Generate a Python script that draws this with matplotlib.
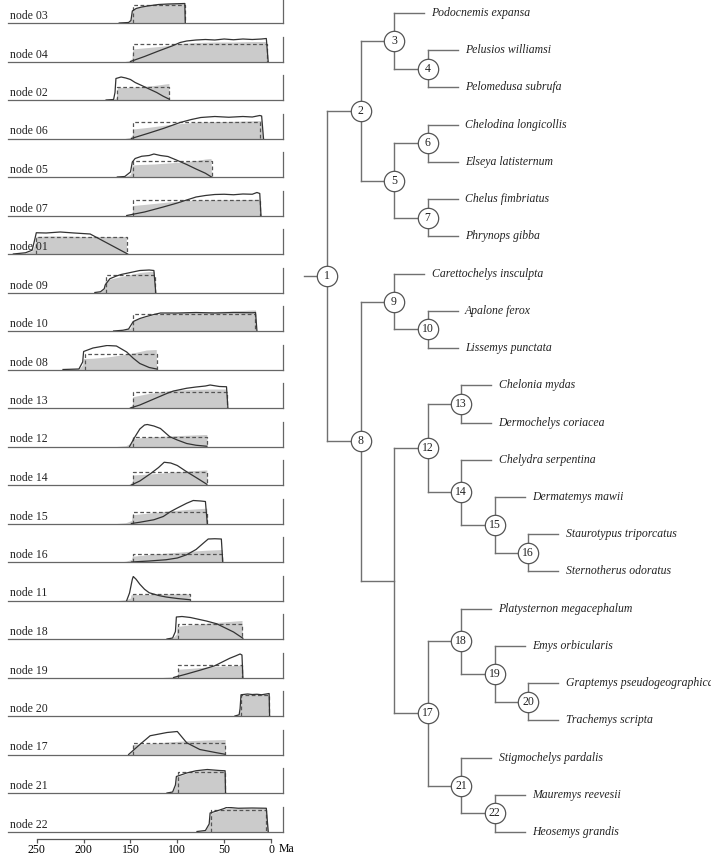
import numpy as np
import matplotlib
matplotlib.use("Agg")
import matplotlib.pyplot as plt

plt.rcParams["font.family"] = ["Liberation Serif", "DejaVu Serif"]

# ---- left: node age densities, (age Ma, relative height) ----
PANELS = ["03", "04", "02", "06", "05", "07", "01", "09", "10", "08", "13",
          "12", "14", "15", "16", "11", "18", "19", "20", "17", "21", "22"]

GRAY = {
    "03": [(162, 0), (152, .02), (149.5, .12), (148, .52), (144, .6), (138, .66), (130, .7), (120, .75), (110, .78), (100, .8), (92, .82), (91.5, 0)],
    "04": [(156, 0), (151, .04), (148.5, .12), (147.5, .5), (140, .53), (125, .58), (110, .64), (97, .72), (80, .76), (60, .78), (40, .78), (20, .8), (5, .8), (3.5, 0)],
    "02": [(176, 0), (168, .02), (165, .1), (164, .52), (155, .5), (145, .52), (135, .55), (125, .58), (115, .63), (109, .66), (108.5, 0)],
    "06": [(156, 0), (150, .05), (148, .15), (147.5, .38), (130, .45), (110, .55), (90, .62), (75, .66), (50, .68), (25, .7), (10, .72), (9, 0)],
    "05": [(164, 0), (156, .02), (150, .1), (148, .48), (140, .5), (125, .52), (110, .56), (95, .6), (80, .66), (70, .72), (64, .74), (63.5, 0)],
    "07": [(156, 0), (150, .04), (148, .14), (147.5, .4), (130, .46), (110, .54), (90, .6), (75, .62), (50, .63), (25, .64), (12, .65), (10.7, 0)],
    "01": [(275, 0), (262, .04), (255, .12), (252, .4), (251, .7), (240, .72), (220, .72), (200, .7), (180, .7), (160, .7), (154.5, .7), (154, 0)],
    "09": [(188, 0), (182, .03), (178, .15), (177, .48), (170, .55), (160, .64), (150, .72), (140, .8), (130, .84), (124.5, .85), (124, 0)],
    "10": [(168, 0), (158, .03), (150, .12), (147.5, .42), (140, .5), (130, .6), (118, .7), (100, .74), (80, .76), (60, .78), (40, .8), (20, .84), (16.5, .84), (16, 0)],
    "08": [(222, 0), (205, .02), (201, .2), (200.5, .44), (190, .45), (175, .5), (160, .58), (145, .68), (133, .78), (122.5, .8), (122, 0)],
    "13": [(153, 0), (150, .05), (148, .15), (147.5, .45), (135, .55), (120, .64), (104, .72), (85, .74), (65, .76), (47.5, .76), (47, 0)],
    "12": [(165, 0), (155, .03), (149, .15), (148.5, .32), (130, .38), (110, .42), (90, .45), (70, .48), (68.5, .48), (68, 0)],
    "14": [(153, 0), (150, .05), (148, .15), (147.5, .4), (130, .44), (110, .5), (90, .56), (70, .6), (68.5, .6), (68, 0)],
    "15": [(165, 0), (155, .03), (149, .12), (148, .35), (130, .42), (110, .5), (90, .56), (70, .61), (68.5, .61), (68, 0)],
    "16": [(163, 0), (155, .03), (149, .1), (148, .23), (130, .3), (110, .36), (90, .42), (70, .47), (52, .5), (51.5, 0)],
    "11": [(163, 0), (155, .03), (150, .1), (149.5, .23), (130, .25), (110, .26), (90, .27), (86.5, .27), (86, 0)],
    "18": [(111, 0), (105, .04), (101, .2), (100.5, .5), (90, .55), (75, .6), (60, .66), (45, .7), (31, .74), (30.5, 0)],
    "19": [(116, 0), (105, .03), (99.5, .12), (99, .33), (80, .38), (60, .44), (40, .48), (31, .5), (30.5, 0)],
    "20": [(38.5, 0), (34, .05), (33, .3), (32, .85), (20, .87), (10, .87), (2, .88), (1.5, 0)],
    "17": [(152, 0), (150, .05), (148, .15), (147.5, .4), (130, .44), (110, .5), (90, .55), (70, .58), (49, .6), (48.5, 0)],
    "21": [(111, 0), (105, .04), (102, .3), (101, .65), (90, .78), (80, .88), (68, .93), (55, .9), (49, .88), (48.5, 0)],
    "22": [(79, 0), (70, .04), (66, .3), (65, .72), (58, .8), (50, .9), (47, .96), (35, .92), (20, .93), (5, .92), (3, 0)],
}

LINE = {
    "03": [(162, 0), (152, .02), (149.5, .1), (148, .48), (144, .58), (138, .64), (130, .69), (120, .74), (110, .76), (100, .77), (92, .78), (91.5, 0)],
    "04": [(150, 0), (135, .2), (120, .42), (105, .63), (97, .76), (90, .82), (80, .86), (70, .88), (60, .86), (50, .9), (40, .87), (30, .9), (20, .88), (10, .9), (5, .92), (3, 0)],
    "02": [(176, 0), (168, .02), (166.5, .3), (165.5, .86), (160, .92), (155, .88), (150, .82), (145, .7), (138, .58), (130, .44), (122, .3), (115, .15), (108.5, .03)],
    "06": [(149, 0), (130, .22), (115, .4), (97, .64), (85, .76), (75, .84), (60, .88), (45, .85), (30, .88), (20, .86), (12, .92), (10, .9), (8, 0)],
    "05": [(164, 0), (156, .02), (150, .2), (148, .6), (145, .74), (138, .83), (130, .86), (125, .92), (118, .86), (110, .82), (101, .68), (90, .5), (80, .32), (70, .15), (63.5, 0)],
    "07": [(154, 0), (135, .14), (115, .34), (100, .5), (90, .62), (80, .74), (70, .8), (60, .84), (50, .85), (40, .83), (30, .86), (20, .85), (15, .92), (12, .88), (10.7, 0)],
    "01": [(275, 0), (262, .05), (255, .15), (252, .6), (250.5, .85), (240, .84), (225, .88), (210, .84), (193, .8), (180, .54), (165, .24), (153, 0)],
    "09": [(188, 0), (182, .03), (178, .15), (177, .3), (172, .55), (165, .66), (160, .72), (150, .8), (140, .88), (130, .9), (125, .88), (123, 0)],
    "10": [(168, 0), (158, .03), (152, .08), (147, .38), (140, .5), (133, .58), (125, .66), (118, .72), (100, .72), (80, .74), (60, .72), (40, .74), (20, .73), (16.5, .74), (15, 0)],
    "08": [(222, 0), (205, .02), (201, .3), (200, .72), (190, .86), (175, .96), (165, .94), (154, .7), (147, .45), (140, .24), (130, .08), (122, .02)],
    "13": [(150, 0), (140, .12), (130, .28), (120, .44), (110, .6), (104, .68), (90, .79), (80, .84), (70, .88), (65, .92), (55, .86), (47.5, .85), (46, 0)],
    "12": [(151, 0), (145, .4), (140, .7), (135, .86), (132, .88), (125, .82), (118, .72), (108, .39), (100, .26), (90, .12), (80, .05), (68.5, .01)],
    "14": [(149, 0), (140, .16), (128, .47), (120, .7), (114, .91), (107, .88), (100, .78), (90, .53), (80, .3), (68.5, .03)],
    "15": [(149, 0), (140, .05), (125, .15), (115, .28), (107, .48), (100, .62), (90, .81), (83, .92), (75, .9), (70, .88), (68, 0)],
    "16": [(149, 0), (130, .04), (112, .09), (100, .16), (90, .29), (80, .5), (72, .76), (67, .92), (60, .93), (53, .92), (51.5, 0)],
    "11": [(154, 0), (151, .3), (148, .85), (147, .96), (144, .85), (140, .65), (135, .45), (130, .31), (120, .2), (112, .14), (100, .08), (86.5, .03)],
    "18": [(111, 0), (105, .04), (102, .3), (101, .88), (95, .9), (86, .86), (69, .72), (58, .61), (40, .28), (30, .03)],
    "19": [(104, 0), (90, .14), (75, .3), (60, .47), (44, .77), (38, .86), (33, .94), (31, .9), (30, 0)],
    "20": [(38.5, 0), (34, .05), (33, .3), (32, .85), (25, .88), (20, .86), (15, .87), (10, .85), (5, .88), (2, .9), (1.5, 0)],
    "17": [(152, 0), (140, .4), (129, .75), (111, .88), (100, .92), (90, .47), (76, .2), (58, .07), (49, .01)],
    "21": [(111, 0), (105, .04), (102, .32), (101, .66), (90, .8), (80, .89), (68, .94), (55, .9), (49, .89), (48.5, 0)],
    "22": [(79, 0), (70, .04), (66, .3), (65, .74), (58, .82), (50, .92), (47, .97), (35, .93), (20, .94), (5, .93), (3, 0)],
}

# uniform prior: (oldest, youngest, height)
PRIOR = {
    "03": (147.5, 91.5, .74), "04": (147.5, 4.5, .72), "02": (164, 108.5, .52),
    "06": (147.5, 11.5, .68), "05": (147.5, 63.5, .63), "07": (147.5, 11.5, .64),
    "01": (250.5, 154, .68), "09": (176, 124, .72), "10": (147.5, 17, .7),
    "08": (198.5, 122, .61), "13": (147.5, 47.5, .65), "12": (147.5, 68.5, .39),
    "14": (147.5, 68.5, .53), "15": (147.5, 68.5, .48), "16": (147.5, 52.5, .33),
    "11": (147.5, 86.5, .27), "18": (99, 31, .59), "19": (99, 31, .51),
    "20": (32, 2, .86), "17": (147.5, 49, .47), "21": (99, 49, .86), "22": (64, 5, .88),
}

TICKS = [250, 200, 150, 100, 50, 0]

# ---- right: tree topology ("u" = unlabeled node) ----
CHILDREN = {
    1: [2, 8], 2: [3, 5], 3: ["Podocnemis expansa", 4],
    4: ["Pelusios williamsi", "Pelomedusa subrufa"], 5: [6, 7],
    6: ["Chelodina longicollis", "Elseya latisternum"],
    7: ["Chelus fimbriatus", "Phrynops gibba"],
    8: [9, "u"], 9: ["Carettochelys insculpta", 10],
    10: ["Apalone ferox", "Lissemys punctata"],
    "u": [12, 17], 12: [13, 14],
    13: ["Chelonia mydas", "Dermochelys coriacea"],
    14: ["Chelydra serpentina", 15], 15: ["Dermatemys mawii", 16],
    16: ["Staurotypus triporcatus", "Sternotherus odoratus"],
    17: [18, 21], 18: ["Platysternon megacephalum", 19],
    19: ["Emys orbicularis", 20],
    20: ["Graptemys pseudogeographica", "Trachemys scripta"],
    21: ["Stigmochelys pardalis", 22],
    22: ["Mauremys reevesii", "Heosemys grandis"],
}

W, H = 711, 856
FS = 8.5
fig = plt.figure(figsize=(W / 100, H / 100), dpi=100)

XL = (280.7, -12.8)
for i, nd in enumerate(PANELS):
    base = 23 + i * 38.5
    ax = fig.add_axes([8 / W, 1 - base / H, 275 / W, 25 / H])
    ax.set_xlim(*XL); ax.set_ylim(0, 1)
    for s in ["top", "left"]:
        ax.spines[s].set_visible(False)
    for s in ["bottom", "right"]:
        ax.spines[s].set_color("#666666"); ax.spines[s].set_linewidth(0.9)
    ax.set_xticks([]); ax.set_yticks([])
    ax.patch.set_alpha(0)
    ga, gh = zip(*GRAY[nd])
    ax.fill_between(ga, 0, gh, color="#cbcbcb", lw=0, zorder=1)
    o, y, h = PRIOR[nd]
    ax.plot([o, o, y, y], [0, h, h, 0], color="#555555", lw=0.9, ls=(0, (3, 2)), zorder=2)
    la, lh = zip(*LINE[nd])
    ax.plot(la, lh, color="#333333", lw=0.9, zorder=3)
    ax.text(278.5, 0.16, f"node {nd}", fontsize=FS, ha="left", va="baseline", color="#222222", zorder=4)

# shared time axis
axb = fig.add_axes([8 / W, 1 - 839 / H, 275 / W, 0.5 / H])
axb.set_xlim(*XL)
for s in ["top", "left", "right"]:
    axb.spines[s].set_visible(False)
axb.spines["bottom"].set_bounds(250, 0)
axb.spines["bottom"].set_color("#555555"); axb.spines["bottom"].set_linewidth(0.9)
axb.set_yticks([]); axb.set_xticks(TICKS)
axb.tick_params(axis="x", direction="out", length=3, width=0.9, color="#555555", pad=0.5, labelsize=FS)
axb.patch.set_alpha(0)
fig.text(279 / W, 1 - 849 / H, "Ma", fontsize=FS, va="center", ha="left")

# ---- tree ----
DX, DY, X0, Y0 = 33.5, 37.23, 327, 13
axt = fig.add_axes([290 / W, 0, (W - 290) / W, 1])
axt.set_xlim((290 - X0) / DX, (W - X0) / DX)
axt.set_ylim((H - Y0) / DY, -Y0 / DY)
axt.axis("off")

pos, tips = {}, []


def layout(n, d):
    if isinstance(n, str) and n != "u":
        tips.append(n)
        return len(tips) - 1
    ys = [layout(c, d + 1) for c in CHILDREN[n]]
    pos[n] = (d, float(np.mean(ys)))
    return pos[n][1]


layout(1, 0)
tip_y = {t: i for i, t in enumerate(tips)}
LC = "#707070"
for n, (d, y) in pos.items():
    cy = []
    for c in CHILDREN[n]:
        if c in pos:
            cx, yy = pos[c][0], pos[c][1]
        else:
            cx, yy = d + 0.9, tip_y[c]
            axt.text(d + 1.12, yy, c, fontsize=FS, style="italic", va="center", ha="left", color="#222222")
        axt.plot([d, cx], [yy, yy], color=LC, lw=1, zorder=1)
        cy.append(yy)
    axt.plot([d, d], [min(cy), max(cy)], color=LC, lw=1, zorder=1)
axt.plot([-0.69, 0], [pos[1][1]] * 2, color=LC, lw=1, zorder=1)

for n, (d, y) in pos.items():
    if n == "u":
        continue
    axt.scatter([d], [y], s=215, facecolor="white", edgecolor="#555555", lw=0.9, zorder=3)
    axt.text(d, y, str(n), fontsize=FS, ha="center", va="center", color="#222222", zorder=4)

fig.savefig("out.png", dpi=100)
